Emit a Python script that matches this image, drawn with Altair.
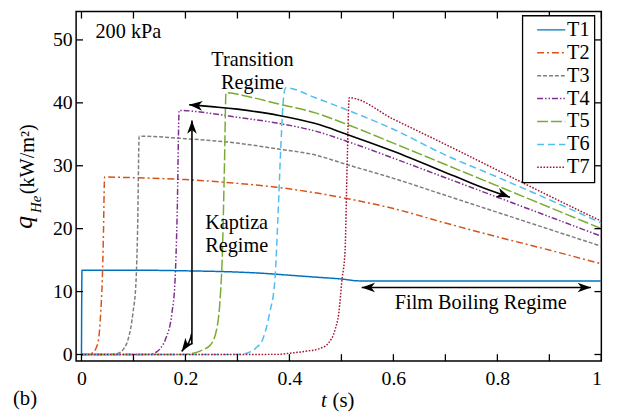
import altair as alt
import pandas as pd

# ---------------- data ----------------
series = ["T1", "T2", "T3", "T4", "T5", "T6", "T7"]
colors = ["#0072BD", "#D95319", "#7F7F7F", "#7E2F8E", "#77AC30", "#4DBEEE", "#A2142F"]
dashes = [[1, 0], [7, 3, 2, 3], [4, 2], [6, 2, 1.5, 2, 1.5, 2], [11, 3], [7, 4], [1.6, 1.6]]

T1_t = [0, 0.001, 0.1, 0.2, 0.3, 0.35, 0.4, 0.45, 0.5, 0.535, 0.6, 0.8, 1.0]
T1_q = [0, 13.4, 13.4, 13.3, 13.1, 12.9, 12.6, 12.3, 12.0, 11.7, 11.7, 11.7, 11.7]

T2_t = [0, 0.015, 0.022, 0.028, 0.033, 0.037, 0.040, 0.042, 0.0445, 0.1, 0.2, 0.3, 0.375, 0.45, 0.51, 0.6, 0.7, 0.8, 0.9, 1.0]
T2_q = [0, 0.05, 0.3, 1.0, 2.5, 6.6, 11.8, 18.0, 28.2, 28.1, 27.8, 27.2, 26.6, 25.7, 24.8, 23.2, 20.9, 18.7, 16.6, 14.4]

T3_t = [0, 0.06, 0.071, 0.082, 0.09, 0.099, 0.105, 0.108, 0.111, 0.2, 0.3, 0.375, 0.45, 0.51, 0.6, 0.7, 0.8, 0.9, 1.0]
T3_q = [0, 0.02, 0.2, 1.0, 2.5, 6.6, 11.8, 20.0, 34.7, 34.3, 33.6, 32.7, 31.7, 30.2, 28.0, 25.3, 22.6, 19.9, 17.2]

T4_t = [0, 0.13, 0.14, 0.152, 0.162, 0.174, 0.18, 0.184, 0.188, 0.25, 0.3, 0.375, 0.45, 0.51, 0.6, 0.7, 0.8, 0.9, 1.0]
T4_q = [0, 0.02, 0.2, 1.0, 2.5, 6.6, 11.8, 22.0, 38.8, 38.3, 37.7, 36.8, 35.5, 33.9, 31.2, 28.1, 25.0, 21.9, 18.8]

T5_t = [0, 0.2, 0.215, 0.235, 0.248, 0.26, 0.267, 0.271, 0.275, 0.278, 0.32, 0.375, 0.45, 0.51, 0.6, 0.7, 0.8, 0.9, 1.0]
T5_q = [0, 0.02, 0.2, 0.8, 1.5, 4.0, 9.2, 16.0, 30.0, 41.6, 41.0, 39.9, 38.4, 36.6, 33.6, 30.2, 26.8, 23.4, 20.0]

T6_t = [0, 0.3, 0.318, 0.335, 0.349, 0.362, 0.372, 0.378, 0.384, 0.389, 0.393, 0.45, 0.51, 0.6, 0.7, 0.8, 0.9, 1.0]
T6_q = [0, 0.02, 0.2, 1.0, 2.5, 6.6, 11.8, 22.0, 34.0, 41.0, 42.4, 40.8, 38.9, 35.8, 31.7, 28.2, 24.6, 20.9]

T7_t = [0, 0.38, 0.40, 0.43, 0.46, 0.475, 0.488, 0.495, 0.501, 0.507, 0.511, 0.515, 0.6, 0.7, 0.8, 0.9, 1.0]
T7_q = [0, 0.02, 0.2, 0.5, 1.0, 1.8, 4.0, 6.6, 11.8, 16.5, 30.0, 40.8, 37.4, 33.4, 29.3, 25.2, 21.2]

# annotation arrows (data coordinates)
TR_t = [0.207, 0.25, 0.3, 0.38, 0.45, 0.51, 0.6, 0.716, 0.77, 0.824]
TR_q = [39.7, 39.4, 39.0, 38.0, 36.7, 35.0, 32.3, 28.4, 26.6, 25.0]
KA_t = [0.2125, 0.2125, 0.2115, 0.2085, 0.2035, 0.1928]
KA_q = [37.2, 4.5, 3.2, 2.3, 1.5, 0.5]
FB_t = [0.539, 0.98]
FB_q = [10.65, 10.65]

head_t = [0.207, 0.824, 0.2125, 0.1928, 0.539, 0.98]
head_q = [39.7, 25.0, 37.2, 0.5, 10.65, 10.65]
head_ang = [185, 21, 270, 125, 180, 0]

note_text = ["Transition", "Regime", "Kaptiza", "Regime", "Film Boiling Regime"]
note_t = [0.329, 0.329, 0.2985, 0.2985, 0.768]
note_q = [46.8, 43.2, 20.9, 17.3, 8.1]

x_label_vals = [0, 0.2, 0.4, 0.6, 0.8, 1.0]
y_label_vals = [0, 10, 20, 30, 40, 50]
x_tick_vals = [0, 0.1, 0.2, 0.3, 0.4, 0.5, 0.6, 0.7, 0.8, 0.9, 1.0]
y_tick_vals = [0, 10, 20, 30, 40, 50]

# ---------------- build tables ----------------
curves = {"T1": (T1_t, T1_q), "T2": (T2_t, T2_q), "T3": (T3_t, T3_q), "T4": (T4_t, T4_q),
          "T5": (T5_t, T5_q), "T6": (T6_t, T6_q), "T7": (T7_t, T7_q)}
rows = []
for s, (ts, qs) in curves.items():
    for i, (t, q) in enumerate(zip(ts, qs)):
        rows.append({"series": s, "t": t, "q": q, "i": i})
df = pd.DataFrame(rows)

arows = []
for aid, (ts, qs) in {"tr": (TR_t, TR_q), "ka": (KA_t, KA_q), "fb": (FB_t, FB_q)}.items():
    for i, (t, q) in enumerate(zip(ts, qs)):
        arows.append({"id": aid, "t": t, "q": q, "i": i})
adf = pd.DataFrame(arows)
hdf = pd.DataFrame({"t": head_t, "q": head_q, "ang": head_ang})
ndf = pd.DataFrame({"t": note_t, "q": note_q, "label": note_text})

W, H = 532, 354
FONT = "Liberation Serif"
FS = 20.5
xs = alt.Scale(domain=[-0.0103, 1.0], nice=False, zero=False)
ys = alt.Scale(domain=[-1.05, 54.5], nice=False, zero=False)

X = lambda: alt.X("t:Q", scale=xs, title=None)
Y = lambda: alt.Y("q:Q", scale=ys, title=None)

lines = alt.Chart(df).mark_line(strokeWidth=1.5, interpolate="monotone", clip=True).encode(
    x=alt.X("t:Q", scale=xs, title=None,
            axis=alt.Axis(values=x_label_vals, format="~g", labelPadding=8)),
    y=alt.Y("q:Q", scale=ys, title=None,
            axis=alt.Axis(values=y_label_vals, labelPadding=4)),
    color=alt.Color("series:N", scale=alt.Scale(domain=series, range=colors), title=None),
    strokeDash=alt.StrokeDash("series:N", scale=alt.Scale(domain=series, range=dashes), title=None),
    order="i:Q",
)

arrows = alt.Chart(adf).mark_line(color="black", strokeWidth=1.6, interpolate="cardinal").encode(
    x=X(), y=Y(), detail="id:N", order="i:Q")

head_shape = "M0,0L-1,-0.36L-0.72,0L-1,0.36Z"
heads = alt.Chart(hdf).mark_point(shape=head_shape, filled=True, color="black", opacity=1,
                                  size=729, strokeWidth=0).encode(
    x=X(), y=Y(), angle=alt.Angle("ang:Q", scale=None))

notes = alt.Chart(ndf).mark_text(font=FONT, fontSize=FS, color="black", align="center",
                                 baseline="middle").encode(x=X(), y=Y(), text="label:N")

kpa = alt.Chart(pd.DataFrame({"t": [0.027], "q": [51.2], "label": ["200 kPa"]})).mark_text(
    font=FONT, fontSize=FS, color="black", align="left", baseline="middle").encode(
    x=X(), y=Y(), text="label:N")

xt = pd.DataFrame({"t": x_tick_vals})
yt = pd.DataFrame({"q": y_tick_vals})
tick_kw = dict(size=7, thickness=1.3, color="black", opacity=1)
bt = alt.Chart(xt).mark_tick(orient="vertical", **tick_kw).encode(x=X(), y=alt.value(H - 3.5))
tt = alt.Chart(xt).mark_tick(orient="vertical", **tick_kw).encode(x=X(), y=alt.value(3.5))
lt = alt.Chart(yt).mark_tick(orient="horizontal", **tick_kw).encode(y=Y(), x=alt.value(3.5))
rt = alt.Chart(yt).mark_tick(orient="horizontal", **tick_kw).encode(y=Y(), x=alt.value(W - 3.5))


def label(txt, x, y, size, style="normal", angle=0, align="left", baseline="alphabetic"):
    return alt.Chart(pd.DataFrame({"label": [txt]})).mark_text(
        font=FONT, fontSize=size, fontStyle=style, color="black", angle=angle,
        align=align, baseline=baseline).encode(
        x=alt.value(x), y=alt.value(y), text="label:N")


title_parts = [
    label("q", -45, 220, 26, "italic", 270),
    label("He", -36, 204, 15, "italic", 270),
    label("(kW/m²)", -43, 185, 20.5, "normal", 270),
    label("t", 248, 400, 21, "italic"),
    label("(s)", 259.7, 400, 21),
    label("(b)", -64, 398, 21),
]

chart = alt.layer(lines, arrows, heads, notes, kpa, bt, tt, lt, rt, *title_parts).properties(
    width=W, height=H,
    autosize=alt.AutoSizeParams(type="none"),
    padding={"left": 69, "top": 1, "right": 27, "bottom": 57},
).configure_view(stroke="black", strokeWidth=1.5).configure_axis(
    grid=False, ticks=False, domain=False, labelFont=FONT, labelFontSize=20, labelColor="black",
).configure_legend(
    orient="none", legendX=452, legendY=4, padding=4, symbolOffset=14.75,
    strokeColor="black", strokeWidth=1.3, fillColor="white",
    labelFont=FONT, labelFontSize=FS, labelColor="black", labelOffset=5.5, labelLimit=200,
    symbolType="M-1.5,0H1.5", symbolSize=361, symbolStrokeWidth=1.5, rowPadding=2.2, cornerRadius=0,
)

chart.save("out.html", embed_options={"renderer": "svg", "actions": False})
